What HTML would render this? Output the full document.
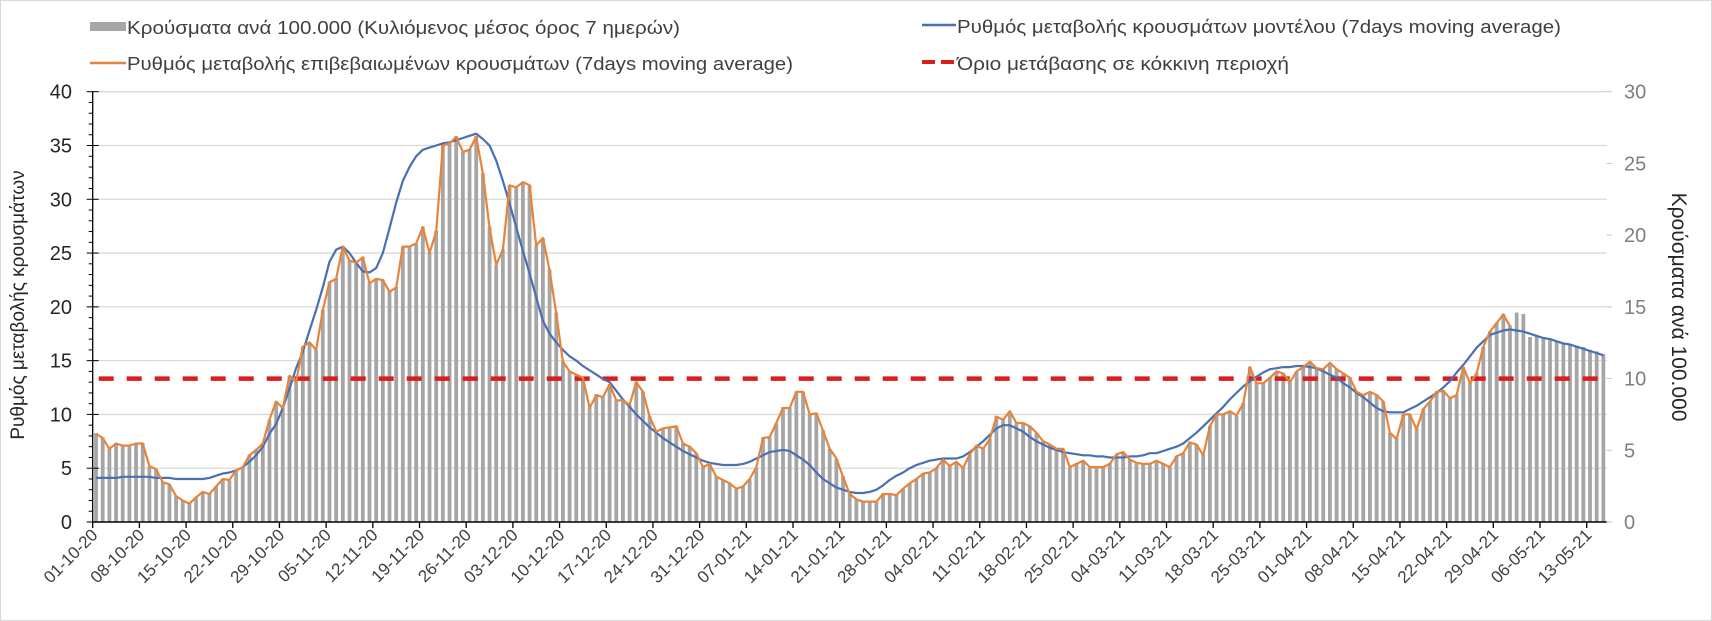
<!DOCTYPE html>
<html><head><meta charset="utf-8">
<style>
html,body{margin:0;padding:0;background:#fff;}
svg{display:block;font-family:"Liberation Sans","DejaVu Sans",sans-serif;}
</style></head>
<body>
<svg id="chart" width="1712" height="621" viewBox="0 0 1712 621" xmlns="http://www.w3.org/2000/svg">
<rect x="0.5" y="0.5" width="1711" height="620" fill="#fff" stroke="#d9d9d9"/>
<g id="grid"></g>
<g id="bars"></g>
<g id="lines"></g>
<g id="axes"></g>
<g>
  <g>
    <rect x="90" y="22" width="36" height="9" fill="#a6a6a6"/>
    <text x="127" y="34" font-size="18" fill="#404040" textLength="553" lengthAdjust="spacingAndGlyphs">Κρούσματα ανά 100.000 (Κυλιόμενος μέσος όρος 7 ημερών)</text>
  </g>
  <g>
    <line x1="90" y1="63" x2="126" y2="63" stroke="#e8833a" stroke-width="2.5"/>
    <text x="127" y="70" font-size="18" fill="#404040" textLength="666" lengthAdjust="spacingAndGlyphs">Ρυθμός μεταβολής επιβεβαιωμένων κρουσμάτων (7days moving average)</text>
  </g>
  <g>
    <line x1="922" y1="25" x2="956" y2="25" stroke="#4a6fb5" stroke-width="2.5"/>
    <text x="957" y="33" font-size="18" fill="#404040" textLength="604" lengthAdjust="spacingAndGlyphs">Ρυθμός μεταβολής κρουσμάτων μοντέλου (7days moving average)</text>
  </g>
  <g>
    <line x1="922" y1="62" x2="956" y2="62" stroke="#dc1c1c" stroke-width="4" stroke-dasharray="13,6"/>
    <text x="957" y="70" font-size="18" fill="#404040" textLength="332" lengthAdjust="spacingAndGlyphs">Όριο μετάβασης σε κόκκινη περιοχή</text>
  </g>
</g>
<text transform="translate(24,305) rotate(-90)" text-anchor="middle" font-size="19" fill="#262626">Ρυθμός μεταβολής κρουσμάτων</text>
<text transform="translate(1672,307) rotate(90)" text-anchor="middle" font-size="21" fill="#262626">Κρούσματα ανά 100.000</text>
</svg>
<script>
const startLabels = ["01-10-20","08-10-20","15-10-20","22-10-20","29-10-20","05-11-20","12-11-20","19-11-20","26-11-20","03-12-20","10-12-20","17-12-20","24-12-20","31-12-20","07-01-21","14-01-21","21-01-21","28-01-21","04-02-21","11-02-21","18-02-21","25-02-21","04-03-21","11-03-21","18-03-21","25-03-21","01-04-21","08-04-21","15-04-21","22-04-21","29-04-21","06-05-21","13-05-21"];
const leftTicks = [0,5,10,15,20,25,30,35,40];
const rightTicks = [0,5,10,15,20,25,30];
const threshold = [13.33];
const casesPer100k = [
6.2,5.9,5.1,5.5,5.3,5.3,5.5,5.5,3.9,3.7,
2.8,2.6,1.8,1.5,1.3,1.7,2.1,2.0,2.5,3.0,
2.9,3.6,3.8,4.7,5.0,5.5,7.1,8.4,8.0,10.2,
9.8,12.2,12.5,12.0,14.8,16.7,17.0,19.2,18.2,18.1,
18.5,16.7,17.0,16.9,16.1,16.4,19.2,19.2,19.4,20.6,
18.8,20.3,26.3,26.4,26.9,25.8,26.0,26.9,24.3,20.6,
17.9,19.0,23.5,23.3,23.7,23.5,19.3,19.8,17.6,14.6,
11.2,10.5,10.3,10.1,8.0,8.9,8.7,9.6,8.5,8.5,
8.2,9.8,9.1,7.4,6.3,6.5,6.6,6.7,5.5,5.3,
4.8,3.8,4.1,3.2,2.9,2.7,2.3,2.5,3.0,3.8,
5.9,5.9,6.9,8.0,8.0,9.1,9.1,7.5,7.6,6.4,
5.1,4.4,3.2,2.0,1.6,1.4,1.4,1.4,2.0,2.0,
1.9,2.3,2.7,3.0,3.4,3.5,3.8,4.4,3.9,4.2,
3.8,4.7,5.3,5.1,5.8,7.4,7.1,7.7,6.9,6.9,
6.7,6.2,5.6,5.4,5.1,5.1,3.8,4.1,4.3,3.8,
3.8,3.8,4.1,4.7,4.9,4.4,4.1,4.1,4.1,4.3,
4.1,3.8,4.6,4.8,5.6,5.4,4.7,6.7,7.5,7.5,
7.7,7.4,8.3,10.8,9.7,9.7,10.1,10.5,10.4,9.8,
10.5,10.8,11.2,10.7,10.7,11.1,10.7,10.4,10.1,9.1,
8.9,9.1,8.9,8.4,6.2,5.8,7.5,7.5,6.5,7.9,
8.4,9.1,9.2,8.6,8.9,10.8,9.7,10.4,12.2,13.3,
13.9,14.5,13.7,14.6,14.5,12.9,13.0,12.8,12.7,12.6,
12.5,12.4,12.2,12.2,12.0,11.9,11.7];
const confirmedRate = [
8.2,7.8,6.8,7.3,7.1,7.1,7.3,7.3,5.2,4.9,
3.7,3.5,2.4,2.0,1.7,2.3,2.8,2.6,3.3,4.0,
3.9,4.8,5.1,6.2,6.7,7.3,9.5,11.2,10.6,13.6,
13.0,16.3,16.7,16.0,19.7,22.3,22.6,25.6,24.3,24.1,
24.6,22.2,22.6,22.5,21.4,21.8,25.6,25.6,25.9,27.4,
25.0,27.0,35.0,35.2,35.8,34.4,34.6,35.8,32.4,27.4,
23.9,25.3,31.3,31.1,31.6,31.3,25.7,26.4,23.4,19.4,
14.9,14.0,13.7,13.4,10.6,11.8,11.6,12.8,11.3,11.3,
10.9,13.0,12.1,9.8,8.4,8.7,8.8,8.9,7.3,7.0,
6.4,5.1,5.4,4.2,3.9,3.6,3.1,3.3,4.0,5.1,
7.8,7.9,9.2,10.6,10.6,12.1,12.1,10.0,10.1,8.5,
6.8,5.9,4.2,2.6,2.1,1.9,1.9,1.9,2.6,2.6,
2.5,3.1,3.6,4.0,4.5,4.6,5.0,5.8,5.2,5.6,
5.0,6.3,7.1,6.8,7.7,9.8,9.5,10.3,9.2,9.2,
8.9,8.3,7.5,7.2,6.8,6.8,5.1,5.4,5.7,5.1,
5.1,5.1,5.4,6.3,6.5,5.8,5.5,5.4,5.4,5.7,
5.4,5.1,6.1,6.4,7.4,7.2,6.2,8.9,10.0,10.0,
10.3,9.9,11.0,14.4,12.9,12.9,13.4,14.0,13.8,13.0,
14.0,14.4,14.9,14.3,14.2,14.8,14.2,13.8,13.4,12.1,
11.8,12.1,11.8,11.2,8.3,7.7,10.0,10.0,8.6,10.5,
11.2,12.1,12.2,11.5,11.8,14.4,12.9,13.8,16.3,17.7,
18.5,19.3,18.2];
const modelRate = [
4.1,4.1,4.1,4.1,4.2,4.2,4.2,4.2,4.2,4.1,
4.1,4.1,4.0,4.0,4.0,4.0,4.0,4.1,4.3,4.5,
4.6,4.8,5.1,5.6,6.2,7.0,8.2,9.1,10.6,12.4,
14.3,15.8,17.8,19.7,21.8,24.2,25.3,25.6,25.0,24.1,
23.3,23.2,23.6,25.0,27.3,29.7,31.7,33.0,34.0,34.6,
34.8,35.0,35.2,35.3,35.5,35.7,35.9,36.1,35.6,35.0,
33.6,31.7,29.6,27.4,25.2,23.1,20.9,18.7,17.5,16.7,
16.0,15.4,15.0,14.5,14.1,13.7,13.3,13.0,12.2,11.4,
10.7,10.0,9.4,8.8,8.3,7.8,7.4,7.0,6.6,6.3,
6.0,5.7,5.5,5.4,5.3,5.3,5.3,5.4,5.6,5.9,
6.2,6.5,6.6,6.7,6.6,6.2,5.8,5.3,4.6,4.0,
3.6,3.2,3.0,2.8,2.7,2.7,2.8,3.0,3.4,3.9,
4.3,4.6,5.0,5.3,5.5,5.7,5.8,5.9,5.9,5.9,
6.1,6.5,7.0,7.5,8.1,8.7,9.0,9.0,8.7,8.4,
7.9,7.5,7.2,6.9,6.7,6.5,6.4,6.3,6.2,6.2,
6.1,6.1,6.0,6.0,6.0,6.1,6.1,6.2,6.4,6.4,
6.6,6.8,7.0,7.3,7.8,8.3,8.9,9.5,10.1,10.7,
11.4,12.0,12.6,13.1,13.5,13.9,14.2,14.3,14.4,14.4,
14.5,14.5,14.4,14.3,14.0,13.7,13.4,12.9,12.5,12.0,
11.6,11.1,10.6,10.3,10.2,10.2,10.2,10.5,10.8,11.2,
11.6,12.0,12.5,13.1,13.9,14.6,15.4,16.2,16.8,17.4,
17.6,17.8,17.9,17.8,17.7,17.5,17.3,17.1,17.0,16.8,
16.6,16.5,16.3,16.1,15.9,15.7,15.5];

const NS = "http://www.w3.org/2000/svg";
const X0 = 92.7, X1 = 1606.7, YB = 522, YT = 91.7;
const N = casesPer100k.length;
const step = (X1 - X0) / N;
function xCat(i){ return X0 + (i + 0.5) * step; }
function xEdge(i){ return X0 + i * step; }
function yL(v){ return YB - v / 40 * (YB - YT); }
function yR(v){ return YB - v / 30 * (YB - YT); }
function mk(tag, attrs, parent){
  const e = document.createElementNS(NS, tag);
  for (const k in attrs) e.setAttribute(k, attrs[k]);
  parent.appendChild(e);
  return e;
}
const grid = document.getElementById('grid');
const bars = document.getElementById('bars');
const lines = document.getElementById('lines');
const axes = document.getElementById('axes');

leftTicks.forEach(function(v){
  if (v === 0) return;
  const g = mk('line', {x1: X0, x2: X1, y1: yL(v), y2: yL(v), stroke: '#d9d9d9', 'stroke-width': 1.3}, grid);
  
  
});

casesPer100k.forEach(function(v, i){
  const r = mk('rect', {x: xCat(i) - 1.9, y: yR(v), width: 3.8, height: YB - yR(v), fill: '#a6a6a6'}, bars);
  
  
});

const th = mk('line', {x1: X0 + 6, x2: X1 - 4, y1: yL(threshold[0]), y2: yL(threshold[0]), stroke: '#dc1c1c', 'stroke-width': 4.5, 'stroke-dasharray': '15,13'}, lines);



const pm = modelRate.map(function(v, i){ return xCat(i).toFixed(1) + ',' + yL(v).toFixed(1); }).join(' ');
const bl = mk('polyline', {points: pm, fill: 'none', stroke: '#4a6fb5', 'stroke-width': 2.2, 'stroke-linejoin': 'round'}, lines);



const pc = confirmedRate.map(function(v, i){ return xCat(i).toFixed(1) + ',' + yL(v).toFixed(1); }).join(' ');
const ol = mk('polyline', {points: pc, fill: 'none', stroke: '#e8833a', 'stroke-width': 2.2, 'stroke-linejoin': 'round'}, lines);



// axes lines
const la = mk('line', {x1: X0, x2: X0, y1: YT, y2: YB, stroke: '#000', 'stroke-width': 1.3}, axes);


const xa = mk('line', {x1: X0, x2: X1, y1: YB, y2: YB, stroke: '#000', 'stroke-width': 1.5}, axes);



for (let m = 0; m <= 40; m++) {
  const t = mk('line', {x1: X0 - (m % 5 === 0 ? 6 : 4), x2: X0 + (m % 5 === 0 ? 6 : 0), y1: yL(m), y2: yL(m), stroke: '#000', 'stroke-width': 1}, axes);
  
  
}
leftTicks.forEach(function(v){
  const t = mk('text', {x: 72, y: yL(v) + 7, 'text-anchor': 'end', 'font-size': 20, fill: '#262626'}, axes);
  t.textContent = v;
  
  
});
rightTicks.forEach(function(v){
  const tk = mk('line', {x1: X1, x2: X1 + 5, y1: yR(v), y2: yR(v), stroke: '#bfbfbf', 'stroke-width': 1}, axes);
  
  
  const t = mk('text', {x: 1624, y: yR(v) + 7, 'text-anchor': 'start', 'font-size': 20, fill: '#7f7f7f'}, axes);
  t.textContent = v;
  
  
});
startLabels.forEach(function(lbl, k){
  const x = xEdge(k * 7);
  const tk = mk('line', {x1: x, x2: x, y1: YB, y2: YB + 6, stroke: '#000', 'stroke-width': 1.3}, axes);
  
  
  const t = mk('text', {transform: 'translate(' + (x + 6).toFixed(1) + ',' + (YB + 14) + ') rotate(-45)', 'text-anchor': 'end', 'font-size': 17, fill: '#404040'}, axes);
  t.textContent = lbl;
  
  
});
</script>
</body></html>
